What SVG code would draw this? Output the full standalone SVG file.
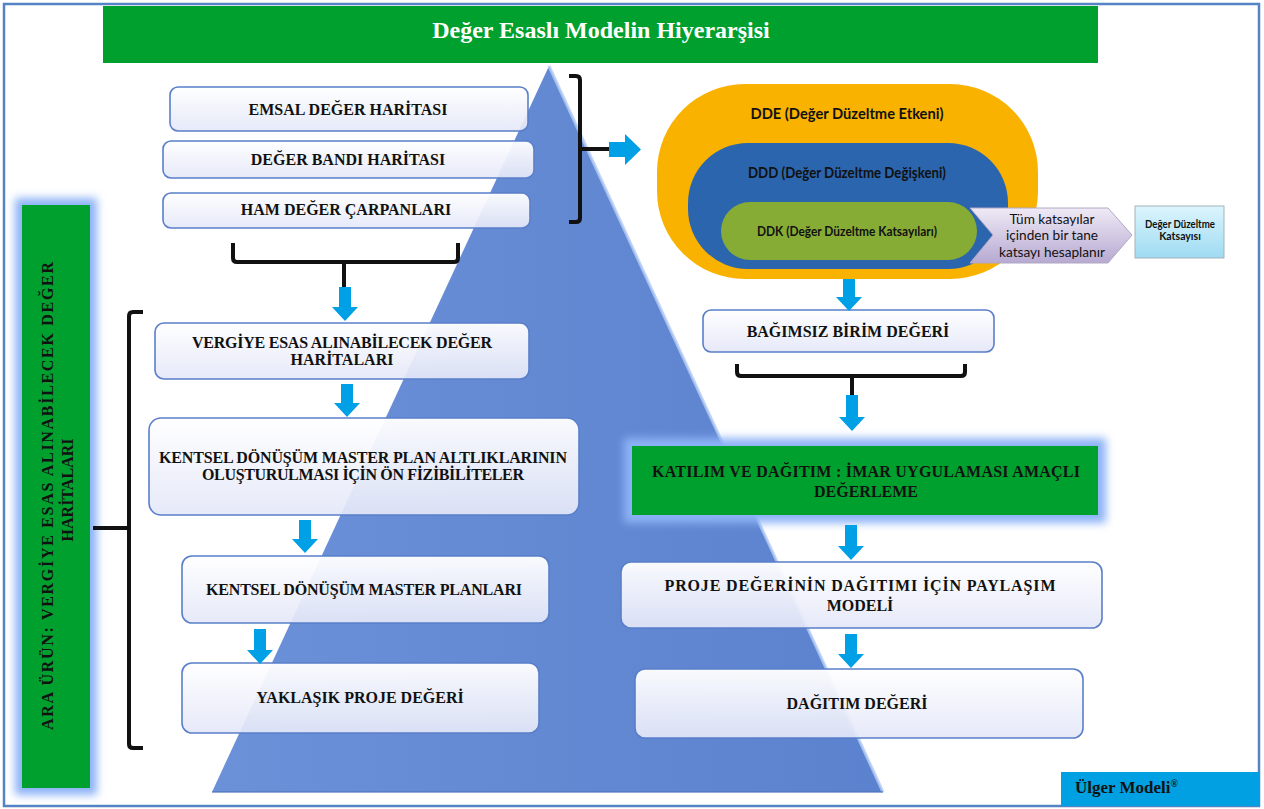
<svg xmlns="http://www.w3.org/2000/svg" width="1264" height="809" viewBox="0 0 1264 809">
<defs>
<style>
.box{fill:url(#gBox);stroke:#5a7fc9;stroke-width:1.6}
.t{font-family:"Liberation Serif","Times New Roman",serif;font-weight:bold;font-size:16px;fill:#111;text-anchor:middle}
.s{font-family:Lato,"Liberation Sans",sans-serif;font-weight:bold;fill:#111;text-anchor:middle}
.r{font-family:Lato,"Liberation Sans",sans-serif;font-size:14px;fill:#111;text-anchor:middle}
.arr{fill:#00A0E6}
.br{fill:none;stroke:#111;stroke-width:4;stroke-linejoin:round}
.glow{fill:#8db3f7;filter:url(#blur)}
.green{fill:#00A02E}
</style>
<linearGradient id="gBox" x1="0" y1="0" x2="0" y2="1">
<stop offset="0" stop-color="#ffffff" stop-opacity="0.96"/>
<stop offset="1" stop-color="#e4e7f8" stop-opacity="0.92"/>
</linearGradient>
<linearGradient id="gTri" x1="0" y1="0" x2="1" y2="0">
<stop offset="0" stop-color="#6b91d9"/>
<stop offset="0.5" stop-color="#6489d3"/>
<stop offset="1" stop-color="#5b82ce"/>
</linearGradient>
<linearGradient id="gChev" x1="0" y1="0" x2="0" y2="1">
<stop offset="0" stop-color="#efeaf6"/>
<stop offset="1" stop-color="#b7a9d1"/>
</linearGradient>
<linearGradient id="gCyan" x1="0" y1="0" x2="0" y2="1">
<stop offset="0" stop-color="#dcf5fd"/>
<stop offset="1" stop-color="#9edbf2"/>
</linearGradient>
<filter id="blur" x="-20%" y="-20%" width="140%" height="140%"><feGaussianBlur stdDeviation="4"/></filter>
</defs>

<rect x="4" y="4" width="1255" height="802" fill="#ffffff" stroke="#5584c4" stroke-width="2.5"/>

<g id="pyramid">
<polygon points="549,66 883,792 212,792" fill="url(#gTri)"/>
<line x1="549" y1="66" x2="883" y2="792" stroke="#b3cbf4" stroke-width="3" opacity="0.8"/>
<line x1="212" y1="792" x2="883" y2="792" stroke="#4f74bb" stroke-width="2" opacity="0.6"/>
</g>

<g id="title">
<rect x="103" y="6" width="995" height="57" class="green"/>
<text x="601" y="38" font-family="Liberation Serif, Times New Roman, serif" font-weight="bold" font-size="24" fill="#ffffff" text-anchor="middle">Değer Esaslı Modelin Hiyerarşisi</text>
</g>

<g id="side-bar">
<rect x="15" y="198" width="82" height="597" class="glow"/>
<rect x="22" y="205" width="68" height="583" class="green"/>
<text class="t" font-size="17" transform="translate(53,496) rotate(-90)" textLength="468" lengthAdjust="spacing">ARA ÜRÜN: VERGİYE ESAS ALINABİLECEK DEĞER</text>
<text class="t" font-size="17" transform="translate(73,490) rotate(-90)">HARİTALARI</text>
</g>

<g id="emsal">
<rect x="170" y="87" width="358" height="44" rx="8" class="box"/>
<text x="348" y="115" class="t">EMSAL DEĞER HARİTASI</text>
</g>
<g id="deger-bandi">
<rect x="163" y="141" width="371" height="37" rx="8" class="box"/>
<text x="348" y="165" class="t">DEĞER BANDI HARİTASI</text>
</g>
<g id="ham-deger">
<rect x="163" y="193" width="367" height="35" rx="8" class="box"/>
<text x="346" y="215" class="t">HAM DEĞER ÇARPANLARI</text>
</g>

<g id="vergiye">
<rect x="155" y="323" width="374" height="56" rx="9" class="box"/>
<text x="342" y="348" class="t" textLength="300" lengthAdjust="spacing">VERGİYE ESAS ALINABİLECEK DEĞER</text>
<text x="342" y="365" class="t">HARİTALARI</text>
</g>
<g id="altlik">
<rect x="149" y="418" width="430" height="97" rx="12" class="box"/>
<text x="363" y="463" class="t" textLength="408" lengthAdjust="spacing">KENTSEL DÖNÜŞÜM MASTER PLAN ALTLIKLARININ</text>
<text x="363" y="480" class="t" textLength="322" lengthAdjust="spacing">OLUŞTURULMASI İÇİN ÖN FİZİBİLİTELER</text>
</g>
<g id="master">
<rect x="182" y="556" width="367" height="67" rx="10" class="box"/>
<text x="364" y="595" class="t" textLength="316" lengthAdjust="spacing">KENTSEL DÖNÜŞÜM MASTER PLANLARI</text>
</g>
<g id="yaklasik">
<rect x="182" y="663" width="357" height="70" rx="10" class="box"/>
<text x="360" y="703" class="t">YAKLAŞIK PROJE DEĞERİ</text>
</g>

<g id="dde">
<rect x="657" y="84" width="381" height="195" rx="88" ry="88" fill="#F9B200"/>
<text x="847" y="119" class="s" font-size="14.5" textLength="193" lengthAdjust="spacingAndGlyphs">DDE (Değer Düzeltme Etkeni)</text>
</g>
<g id="ddd">
<rect x="688" y="143" width="320" height="126" rx="60" ry="60" fill="#2B65AE"/>
<text x="847" y="178" class="s" font-size="14.5" textLength="198" lengthAdjust="spacingAndGlyphs">DDD (Değer Düzeltme Değişkeni)</text>
</g>
<g id="ddk">
<rect x="721" y="202" width="256" height="58" rx="29" ry="29" fill="#87AC35"/>
<text x="847" y="236" class="s" font-size="12.5" textLength="180" lengthAdjust="spacingAndGlyphs">DDK (Değer Düzeltme Katsayıları)</text>
</g>
<g id="chevron">
<polygon points="970,208 1108,208 1132,235 1108,263 970,263 993,235" fill="url(#gChev)" stroke="#b0a8c4" stroke-width="1"/>
<text x="1052" y="224" class="r" textLength="85" lengthAdjust="spacingAndGlyphs">Tüm katsayılar</text>
<text x="1052" y="240" class="r" textLength="92" lengthAdjust="spacingAndGlyphs">içinden bir tane</text>
<text x="1052" y="257" class="r" textLength="106" lengthAdjust="spacingAndGlyphs">katsayı hesaplanır</text>
</g>
<g id="katsayi">
<rect x="1135" y="206" width="89" height="52" fill="url(#gCyan)" stroke="#a3b3bb" stroke-width="1"/>
<text x="1180" y="228" class="s" font-size="10.5" textLength="70" lengthAdjust="spacingAndGlyphs">Değer Düzeltme</text>
<text x="1180" y="240" class="s" font-size="10.5">Katsayısı</text>
</g>

<g id="bagimsiz">
<rect x="703" y="310" width="291" height="42" rx="8" class="box"/>
<text x="848" y="337" class="t">BAĞIMSIZ BİRİM DEĞERİ</text>
</g>
<g id="katilim">
<rect x="624" y="438" width="482" height="85" class="glow"/>
<rect x="632" y="446" width="466" height="69" class="green"/>
<text x="866" y="477" class="t" textLength="428" lengthAdjust="spacing">KATILIM VE DAĞITIM : İMAR UYGULAMASI AMAÇLI</text>
<text x="866" y="497" class="t">DEĞERLEME</text>
</g>
<g id="proje">
<rect x="621" y="562" width="481" height="66" rx="10" class="box"/>
<text x="860" y="591" class="t" textLength="391" lengthAdjust="spacing">PROJE DEĞERİNİN DAĞITIMI İÇİN PAYLAŞIM</text>
<text x="860" y="611" class="t">MODELİ</text>
</g>
<g id="dagitim">
<rect x="635" y="669" width="448" height="69" rx="10" class="box"/>
<text x="857" y="709" class="t">DAĞITIM DEĞERİ</text>
</g>

<g id="ulger">
<rect x="1061" y="772" width="199" height="34" fill="#00A0E3"/>
<text x="1075" y="793" font-family="Liberation Serif, Times New Roman, serif" font-weight="bold" font-size="17" fill="#111">Ülger Modeli<tspan font-size="10" dy="-6">®</tspan></text>
</g>

<g id="connectors">
<path class="br" d="M233,243 V258 Q233,262 237,262 H454 Q458,262 458,258 V243 M344,262 V288"/>
<path class="br" d="M569,76 H576 Q580,76 580,80 V218 Q580,222 576,222 H569 M580,149 H610"/>
<path class="br" d="M143,312 H133 Q129,312 129,316 V744 Q129,748 133,748 H143 M129,528 H93"/>
<path class="br" d="M737,364 V372 Q737,376 741,376 H961 Q965,376 965,372 V364 M852,376 V396"/>
<path class="arr" d="M339,287 H351 V307 H358 L345,321 L332,307 H339 Z"/>
<path class="arr" d="M341,384 H353 V403 H360 L347,417 L334,403 H341 Z"/>
<path class="arr" d="M299,520 H311 V539 H318 L305,553 L292,539 H299 Z"/>
<path class="arr" d="M254,629 H266 V650 H273 L260,664 L247,650 H254 Z"/>
<path class="arr" d="M609,142 V157 H625 V165 L641,149.5 L625,134 V142 Z"/>
<path class="arr" d="M843,279 H855 V297 H862 L849,311 L836,297 H843 Z"/>
<path class="arr" d="M846,395 H858 V417 H865 L852,431 L839,417 H846 Z"/>
<path class="arr" d="M845,525 H857 V546 H864 L851,560 L838,546 H845 Z"/>
<path class="arr" d="M845,634 H857 V654 H864 L851,668 L838,654 H845 Z"/>
</g>
</svg>
